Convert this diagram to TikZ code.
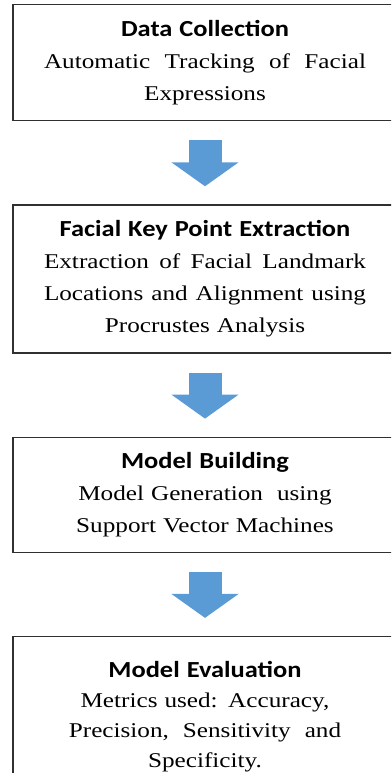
\documentclass[tikz,border=0pt]{standalone}
\usepackage{fontspec}
\setmainfont[FakeStretch=1.2]{Liberation Serif}
\newfontfamily\headfont[FakeStretch=1.15]{Carlito}
\usetikzlibrary{
	arrows.meta,
	positioning,
}
\definecolor{StepBlue}{HTML}{5B9BD5}
\definecolor{BoxLine}{HTML}{303030}
\newcommand{\fullline}[1]{\makebox[322pt]{#1}}
\newcommand{\steptitle}[1]{{\headfont\bfseries\fontsize{23}{32}\selectfont #1}}

\begin{document}
\begin{tikzpicture}[x=1pt,y=1pt,
				stage/.style={rectangle,draw=BoxLine,line width=1.3pt,text width=322pt,inner xsep=31pt,align=center,font=\fontsize{21}{32}\selectfont},
				flow/.style={StepBlue,line width=33pt,-{Triangle[width=66pt,length=24pt]},shorten <=19pt,shorten >=18pt},
			]
			\useasboundingbox (0,0) rectangle (391,-773);
			\clip (0,0) rectangle (391,-773);

			\node (collect) [stage,minimum height=116pt,anchor=north] at (205,-4) {\steptitle{Data Collection}\\ \fullline{Automatic\hfill Tracking\hfill of\hfill Facial}\\ Expressions};
			\node (extract) [stage,minimum height=148pt,below=83pt of collect] {\steptitle{Facial Key Point Extraction}\\ \fullline{Extraction\hfill of\hfill Facial\hfill Landmark}\\ \fullline{Locations\hfill and\hfill Alignment\hfill using}\\ Procrustes Analysis};
			\node (build) [stage,minimum height=115pt,below=83pt of extract] {\steptitle{Model Building}\\ Model Generation \ using\\ Support Vector Machines};
			\node (evaluate) [stage,minimum height=160pt,below=83pt of build,font=\fontsize{21}{30}\selectfont] {\steptitle{Model Evaluation}\\ Metrics used: Accuracy,\\ Precision, \ Sensitivity \ and\\ Specificity.};

			\draw[flow] (collect) -- (extract);
			\draw[flow] (extract) -- (build);
			\draw[flow] (build) -- (evaluate);
		\end{tikzpicture}
\end{document}
